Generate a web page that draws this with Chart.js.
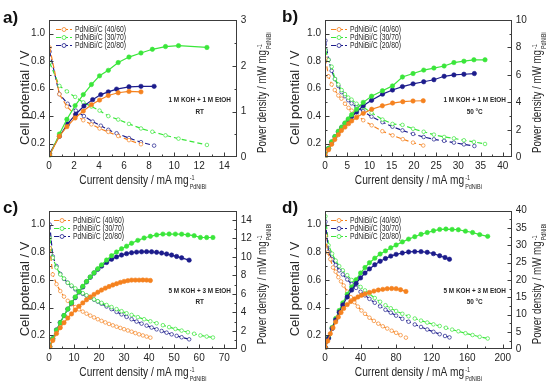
<!DOCTYPE html>
<html>
<head>
<meta charset="utf-8">
<script src="https://cdn.jsdelivr.net/npm/chart.js@4.4.1/dist/chart.umd.min.js"></script>
<style>
  html, body { margin: 0; padding: 0; background: #fff; }
  #wrap { position: relative; width: 550px; height: 386px; overflow: hidden; background: #fff; }
  .panel { position: absolute; width: 275px; height: 193px; }
</style>
</head>
<body>
<div id="wrap">
  <div class="panel" style="left:0;top:0"><canvas id="pa" width="275" height="193"></canvas></div>
  <div class="panel" style="left:275px;top:0"><canvas id="pb" width="275" height="193"></canvas></div>
  <div class="panel" style="left:0;top:193px"><canvas id="pc" width="275" height="193"></canvas></div>
  <div class="panel" style="left:275px;top:193px"><canvas id="pd" width="275" height="193"></canvas></div>
</div>
<script>
// ======= Data =======
// j = current density (mA mg-1), V = cell potential (V), P = power density (mW mg-1)

// a) 1 M KOH + 1 M EtOH, RT
const aJ40 = [0.05, 0.83, 1.43, 2.09, 2.74, 3.39, 4.04, 4.74, 5.53, 6.39, 7.35];
const aV40 = [0.90, 0.56, 0.47, 0.41, 0.37, 0.34, 0.31, 0.285, 0.255, 0.225, 0.195];
const aP40 = [0.05, 0.46, 0.67, 0.86, 1.01, 1.15, 1.25, 1.35, 1.41, 1.44, 1.43];
const aJ30 = [0.05, 0.83, 1.43, 2.09, 2.74, 3.39, 4.04, 4.74, 5.53, 6.39, 7.35, 8.26, 9.31, 10.35, 12.62];
const aV30 = [0.79, 0.62, 0.58, 0.54, 0.50, 0.47, 0.44, 0.40, 0.375, 0.343, 0.31, 0.286, 0.26, 0.236, 0.19];
const aP30 = [0.04, 0.51, 0.83, 1.13, 1.37, 1.59, 1.78, 1.90, 2.07, 2.19, 2.28, 2.36, 2.42, 2.44, 2.40];
const aJ20 = [0.05, 0.83, 1.49, 2.14, 2.79, 3.49, 4.14, 4.74, 5.40, 6.39, 7.35, 8.4];
const aV20 = [0.87, 0.56, 0.49, 0.44, 0.40, 0.36, 0.33, 0.30, 0.275, 0.24, 0.21, 0.185];
const aP20 = [0.08, 0.46, 0.73, 0.94, 1.12, 1.26, 1.37, 1.43, 1.49, 1.54, 1.55, 1.55];

// b) 1 M KOH + 1 M EtOH, 50 °C
const bJ40 = [0.1, 0.8, 1.5, 2.2, 3.0, 3.7, 4.5, 5.3, 6.0, 7.1, 8.6, 10.5, 12.9, 15.2, 17.5, 19.8, 22.1];
const bV40 = [0.82, 0.69, 0.63, 0.59, 0.55, 0.527, 0.49, 0.46, 0.44, 0.41, 0.37, 0.333, 0.29, 0.26, 0.232, 0.207, 0.186];
const bP40 = [0.05, 0.55, 0.95, 1.3, 1.65, 1.95, 2.2, 2.45, 2.65, 2.9, 3.2, 3.5, 3.75, 3.95, 4.05, 4.1, 4.12];
const bJ30 = [0.1, 0.8, 1.5, 2.24, 3.0, 3.74, 4.49, 5.23, 5.98, 7.1, 8.6, 10.47, 12.93, 15.18, 17.42, 19.81, 22.2, 24.5, 26.8, 29.0, 31.25, 33.5, 36.0];
const bV30 = [0.88, 0.81, 0.76, 0.67, 0.63, 0.59, 0.56, 0.535, 0.52, 0.49, 0.465, 0.425, 0.375, 0.343, 0.336, 0.308, 0.286, 0.265, 0.248, 0.238, 0.224, 0.212, 0.197];
const bP30 = [0.05, 0.65, 1.14, 1.51, 1.9, 2.2, 2.5, 2.8, 3.1, 3.5, 4.0, 4.45, 4.85, 5.2, 5.85, 6.1, 6.35, 6.5, 6.65, 6.9, 7.0, 7.1, 7.1];
const bJ20 = [0.1, 0.8, 1.5, 2.24, 3.0, 3.74, 4.49, 5.23, 5.98, 7.1, 8.6, 10.47, 12.93, 15.18, 17.42, 19.81, 22.2, 24.5, 26.8, 29.0, 31.25, 33.6];
const bV20 = [0.95, 0.81, 0.73, 0.67, 0.62, 0.575, 0.545, 0.516, 0.493, 0.465, 0.436, 0.396, 0.356, 0.323, 0.296, 0.27, 0.248, 0.231, 0.22, 0.207, 0.194, 0.182];
const bP20 = [0.08, 0.65, 1.1, 1.5, 1.85, 2.15, 2.45, 2.7, 2.95, 3.3, 3.75, 4.15, 4.6, 4.9, 5.15, 5.35, 5.5, 5.65, 5.9, 6.0, 6.05, 6.1];

// c) 5 M KOH + 3 M EtOH, RT
const cJ40 = [0.3, 1.5, 3, 4.5, 6, 7.5, 9, 10.5, 12, 13.5, 15, 16.5, 18, 19.5, 21, 22.5, 24, 25.5, 27, 28.5, 30, 31.5, 33, 34.5, 36, 37.5, 39, 40.5];
const cV40 = [0.83, 0.64, 0.57, 0.52, 0.48, 0.45, 0.425, 0.405, 0.388, 0.372, 0.357, 0.343, 0.33, 0.317, 0.305, 0.294, 0.283, 0.273, 0.263, 0.254, 0.245, 0.236, 0.227, 0.217, 0.208, 0.2, 0.192, 0.184];
const cP40 = [0.25, 0.96, 1.71, 2.34, 2.88, 3.38, 3.83, 4.25, 4.66, 5.02, 5.36, 5.66, 5.94, 6.18, 6.41, 6.62, 6.79, 6.96, 7.1, 7.24, 7.35, 7.43, 7.49, 7.49, 7.49, 7.5, 7.49, 7.45];
const cJ30 = [0.3, 1.5, 3, 4.5, 6, 7.5, 9, 10.5, 12, 13.5, 15, 16.5, 18, 19.5, 21, 23, 25, 27, 29, 31, 33, 35.5, 38, 40.5, 43, 45.5, 48, 50.5, 53, 55.5, 58, 60.5, 63, 65.5];
const cV30 = [0.90, 0.76, 0.69, 0.64, 0.61, 0.58, 0.56, 0.54, 0.52, 0.505, 0.49, 0.475, 0.46, 0.447, 0.435, 0.42, 0.405, 0.39, 0.375, 0.36, 0.348, 0.332, 0.317, 0.302, 0.288, 0.274, 0.26, 0.247, 0.235, 0.223, 0.212, 0.2, 0.192, 0.185];
const cP30 = [0.27, 1.14, 2.07, 2.88, 3.66, 4.35, 5.04, 5.67, 6.24, 6.82, 7.35, 7.84, 8.28, 8.72, 9.14, 9.66, 10.13, 10.53, 10.88, 11.16, 11.48, 11.79, 12.05, 12.23, 12.38, 12.47, 12.48, 12.47, 12.46, 12.38, 12.3, 12.1, 12.1, 12.1];
const cJ20 = [0.3, 1.5, 3, 4.5, 6, 7.5, 9, 10.5, 12, 13.5, 15, 16.5, 18, 19.5, 21, 23, 25, 27, 29, 31, 33, 35, 37, 39, 41, 43, 45, 47, 49, 51, 53, 56];
const cV20 = [1.0, 0.77, 0.70, 0.644, 0.608, 0.58, 0.556, 0.533, 0.517, 0.5, 0.487, 0.473, 0.458, 0.444, 0.429, 0.409, 0.39, 0.37, 0.352, 0.334, 0.317, 0.3, 0.285, 0.271, 0.257, 0.244, 0.232, 0.22, 0.208, 0.197, 0.187, 0.172];
const cP20 = [0.3, 1.15, 2.1, 2.9, 3.65, 4.35, 5.0, 5.6, 6.2, 6.75, 7.3, 7.8, 8.25, 8.65, 9.0, 9.4, 9.75, 10.0, 10.2, 10.35, 10.45, 10.52, 10.55, 10.57, 10.55, 10.5, 10.42, 10.32, 10.2, 10.05, 9.9, 9.65];

// d) 5 M KOH + 3 M EtOH, 50 °C  (legend order here: 40/60 orange, 30/70 navy, 20/80 green)
const dJ40 = [0.5, 3, 6, 9, 12, 15, 18, 21, 25, 29, 33, 37, 41, 45, 50, 55, 60, 65, 70, 75, 80, 85, 91];
const dV40 = [0.92, 0.8, 0.75, 0.69, 0.66, 0.62, 0.59, 0.56, 0.516, 0.476, 0.44, 0.408, 0.38, 0.356, 0.328, 0.305, 0.285, 0.266, 0.25, 0.234, 0.219, 0.202, 0.184];
const dP40 = [0.45, 2.4, 4.5, 6.2, 7.9, 9.3, 10.6, 11.8, 12.9, 13.8, 14.5, 15.1, 15.6, 16.0, 16.4, 16.8, 17.1, 17.3, 17.5, 17.55, 17.5, 17.2, 16.7];
const dJ30 = [0.5, 4, 8, 12, 16, 20, 25, 30, 35, 40, 45, 50, 56, 62, 68, 74, 80, 87, 94, 101, 108, 115, 122, 129, 135, 140];
const dV30 = [1.02, 0.80, 0.75, 0.708, 0.669, 0.64, 0.604, 0.57, 0.543, 0.515, 0.489, 0.464, 0.436, 0.41, 0.385, 0.364, 0.343, 0.32, 0.299, 0.279, 0.261, 0.243, 0.226, 0.209, 0.196, 0.186];
const dP30 = [0.5, 3.2, 6.0, 8.5, 10.7, 12.8, 15.1, 17.1, 19.0, 20.6, 22.0, 23.2, 24.4, 25.4, 26.2, 26.9, 27.4, 27.8, 28.1, 28.2, 28.2, 28.0, 27.6, 27.0, 26.5, 26.0];
const dJ20 = [0.5, 4, 8, 12, 16, 20, 25, 30, 35, 40, 45, 50, 56, 62, 68, 74, 80, 87, 94, 101, 108, 115, 122, 129, 136, 143, 150, 158, 166, 174, 183];
const dV20 = [1.06, 0.85, 0.79, 0.74, 0.70, 0.67, 0.635, 0.60, 0.575, 0.55, 0.525, 0.5, 0.47, 0.443, 0.418, 0.396, 0.376, 0.356, 0.338, 0.322, 0.307, 0.293, 0.28, 0.268, 0.255, 0.242, 0.23, 0.216, 0.203, 0.19, 0.178];
const dP20 = [0.5, 3.4, 6.3, 8.9, 11.2, 13.4, 15.9, 18.0, 20.1, 22.0, 23.6, 25.0, 26.3, 27.5, 28.4, 29.3, 30.1, 31.0, 31.8, 32.5, 33.2, 33.7, 34.2, 34.6, 34.7, 34.6, 34.5, 34.1, 33.7, 33.1, 32.6];

// ======= Tick labels =======
const vTicks  = [0.2, 0.4, 0.6, 0.8, 1.0];
const aXTicks = [0, 2, 4, 6, 8, 10, 12, 14];
const aPTicks = [0, 1, 2, 3];
const bXTicks = [0, 5, 10, 15, 20, 25, 30, 35, 40];
const bPTicks = [0, 2, 4, 6, 8, 10];
const cXTicks = [0, 10, 20, 30, 40, 50, 60, 70];
const cPTicks = [0, 2, 4, 6, 8, 10, 12, 14];
const dXTicks = [0, 40, 80, 120, 160, 200];
const dPTicks = [0, 5, 10, 15, 20, 25, 30, 35, 40];

const L40 = 'PdNiBi/C (40/60)', L30 = 'PdNiBi/C (30/70)', L20 = 'PdNiBi/C (20/80)';

// ======= Style =======
const ORANGE = '#f5821f', GREEN = '#3ae63a', NAVY = '#1c1c8c';
const AXIS = '#3c3c3c', TEXT = '#262626';
const FONT = '"Liberation Sans", Arial, Helvetica, sans-serif';

// ======= Helpers =======
const pts = (xs, ys) => xs.map((x, i) => ({ x, y: ys[i] }));

function polDs(label, color, j, v) {
  return {
    label, data: pts(j, v), yAxisID: 'y',
    borderColor: color, borderWidth: 1.2, borderDash: [5, 3],
    pointRadius: 1.8, pointBorderWidth: 0.7, pointBorderColor: color,
    pointBackgroundColor: '#fff', backgroundColor: '#fff', tension: 0
  };
}
function powDs(label, color, j, p) {
  return {
    label: label + ' power', data: pts(j, p), yAxisID: 'y1',
    borderColor: color, borderWidth: 1.2,
    pointRadius: 2.2, pointBorderWidth: 0.6, pointBorderColor: color,
    pointBackgroundColor: color, backgroundColor: color, tension: 0
  };
}

// squeezed text helper (the figure's lettering is horizontally condensed)
function sqText(ctx, text, x, y, sx) {
  ctx.save(); ctx.translate(x, y); ctx.scale(sx, 1); ctx.fillText(text, 0, 0); ctx.restore();
}
function textW(ctx, text, sx) { return ctx.measureText(text).width * sx; }

// "main" + stacked superscript -1 / subscript PdNiBi, starting at x0 on baseline y
function unitTitle(ctx, main, x0, y, size, sx) {
  ctx.font = size + 'px ' + FONT;
  sqText(ctx, main, x0, y, sx);
  const wm = textW(ctx, main, sx);
  ctx.font = '7px ' + FONT;
  sqText(ctx, '-1', x0 + wm + 1, y - 4, sx);
  sqText(ctx, 'PdNiBi', x0 + wm + 1, y + 4.5, sx);
}
function unitTitleWidth(ctx, main, size, sx) {
  ctx.font = size + 'px ' + FONT;
  const wm = textW(ctx, main, sx);
  ctx.font = '7px ' + FONT;
  return wm + 1 + textW(ctx, 'PdNiBi', sx);
}

// ======= Decorations: frame, inward ticks, titles, legend, notes =======
function decoPlugin(spec) {
  return {
    id: 'deco',
    afterDraw(chart) {
      const { ctx, chartArea: ca, scales } = chart;
      const sx = scales.x, sy = scales.y, sp = scales.y1;
      const L = Math.round(ca.left) + 0.5, R = Math.round(ca.right) - 0.5;
      const T = Math.round(ca.top) + 0.5, B = Math.round(ca.bottom) - 0.5;
      ctx.save();
      ctx.strokeStyle = AXIS; ctx.lineWidth = 1;
      ctx.strokeRect(L, T, R - L, B - T);

      const near = (arr, v) => arr.some(t => Math.abs(t - v) < 1e-6);
      ctx.beginPath();
      for (let k = 1; k * spec.xMinor < spec.xMax - 1e-6; k++) {
        const v = k * spec.xMinor, px = Math.round(sx.getPixelForValue(v)) + 0.5;
        ctx.moveTo(px, B); ctx.lineTo(px, B - (near(spec.xTicks, v) ? 4 : 2));
      }
      for (let k = 1; k < 10; k++) {
        const v = 0.1 + k * 0.1, py = Math.round(sy.getPixelForValue(v)) + 0.5;
        ctx.moveTo(L, py); ctx.lineTo(L + (near(vTicks, +v.toFixed(2)) ? 4 : 2), py);
      }
      for (let k = 1; k * spec.pMinor < spec.pMax - 1e-6; k++) {
        const v = k * spec.pMinor, py = Math.round(sp.getPixelForValue(v)) + 0.5;
        ctx.moveTo(R, py); ctx.lineTo(R - (near(spec.pTicks, v) ? 4 : 2), py);
      }
      ctx.stroke();

      ctx.fillStyle = TEXT;
      ctx.textBaseline = 'alphabetic'; ctx.textAlign = 'left';

      // x title
      const xMain = 'Current density / mA mg';
      const wx = unitTitleWidth(ctx, xMain, 13, 0.78);
      unitTitle(ctx, xMain, (ca.left + ca.right) / 2 - wx / 2, ca.bottom + 27, 13, 0.78);

      // left title
      ctx.save();
      ctx.translate(ca.left + spec.leftTitleDX, (ca.top + ca.bottom) / 2 + 9);
      ctx.rotate(-Math.PI / 2);
      ctx.font = '13px ' + FONT; ctx.textAlign = 'center'; ctx.textBaseline = 'middle';
      ctx.fillText('Cell potential / V', 0, 0);
      ctx.restore();

      // right title
      ctx.save();
      ctx.translate(ca.right + 25, (ca.top + ca.bottom) / 2 + 4);
      ctx.rotate(-Math.PI / 2);
      ctx.textAlign = 'left'; ctx.textBaseline = 'alphabetic';
      const pMain = 'Power density / mW mg';
      const wp = unitTitleWidth(ctx, pMain, 12.5, 0.78);
      unitTitle(ctx, pMain, -wp / 2, 4.5, 12.5, 0.78);
      ctx.restore();

      // legend (polarisation curves: dashed line + open circle)
      ctx.font = '8.5px ' + FONT; ctx.textBaseline = 'middle';
      spec.series.forEach((s, i) => {
        const y = Math.round(ca.top + 9 + i * 8.2) + 0.5;
        const tx = ca.left + spec.legendDX;
        ctx.strokeStyle = s.color; ctx.lineWidth = 1.2; ctx.setLineDash([5, 2]);
        ctx.beginPath(); ctx.moveTo(tx - 19, y); ctx.lineTo(tx - 3, y); ctx.stroke();
        ctx.setLineDash([]);
        ctx.fillStyle = '#fff'; ctx.lineWidth = 0.8;
        ctx.beginPath(); ctx.arc(tx - 11, y, 2, 0, Math.PI * 2); ctx.fill(); ctx.stroke();
        ctx.fillStyle = TEXT;
        sqText(ctx, s.label, tx, y, 0.8);
      });

      // conditions note
      ctx.font = 'bold 8px ' + FONT; ctx.textAlign = 'center'; ctx.textBaseline = 'middle';
      spec.note.forEach((line, i) => sqText(ctx, line, ca.right - 37, ca.top + 80 + i * 11.5, 0.8));

      // panel letter
      ctx.font = 'bold 17px ' + FONT; ctx.textAlign = 'left'; ctx.textBaseline = 'alphabetic';
      ctx.fillStyle = '#111';
      ctx.fillText(spec.letter, spec.letterX, spec.letterY);
      ctx.restore();
    }
  };
}

// ======= Panels =======
function makePanel(canvasId, spec) {
  const datasets = [];
  spec.series.forEach(s => datasets.push(powDs(s.label, s.color, s.j, s.P)));
  spec.series.forEach(s => datasets.push(polDs(s.label, s.color, s.j, s.V)));
  const tickFont = { family: FONT, size: 10 };
  return new Chart(document.getElementById(canvasId), {
    type: 'line',
    data: { datasets },
    options: {
      responsive: false, animation: false, events: [],
      layout: { padding: { top: spec.top, left: 0, right: 0, bottom: 0 } },
      plugins: { legend: { display: false }, tooltip: { enabled: false } },
      scales: {
        x: {
          type: 'linear', min: 0, max: spec.xMax,
          grid: { display: false, drawTicks: false }, border: { display: false },
          afterBuildTicks: s => { s.ticks = spec.xTicks.map(v => ({ value: v })); },
          afterFit: s => { s.height = spec.xH; },
          ticks: { autoSkip: false, maxRotation: 0, padding: 3, color: TEXT, font: tickFont, callback: v => String(v) }
        },
        y: {
          type: 'linear', position: 'left', min: 0.1, max: 1.1,
          grid: { display: false, drawTicks: false }, border: { display: false },
          afterBuildTicks: s => { s.ticks = vTicks.map(v => ({ value: v })); },
          afterFit: s => { s.width = spec.left; },
          ticks: { autoSkip: false, padding: 4, color: TEXT, font: tickFont, callback: v => v.toFixed(1) }
        },
        y1: {
          type: 'linear', position: 'right', min: 0, max: spec.pMax,
          grid: { display: false, drawTicks: false }, border: { display: false },
          afterBuildTicks: s => { s.ticks = spec.pTicks.map(v => ({ value: v })); },
          afterFit: s => { s.width = spec.right; },
          ticks: { autoSkip: false, padding: 4, color: TEXT, font: tickFont, callback: v => String(v) }
        }
      }
    },
    plugins: [decoPlugin(spec)]
  });
}

makePanel('pa', {
  letter: 'a)', letterX: 3, letterY: 23,
  xMax: 15, xTicks: aXTicks, xMinor: 1, pMax: 3, pTicks: aPTicks, pMinor: 0.5,
  left: 49, right: 38.3, top: 20, xH: 35.7, leftTitleDX: -24, legendDX: 26,
  note: ['1 M KOH + 1 M EtOH', 'RT'],
  series: [
    { label: L40, color: ORANGE, j: aJ40, V: aV40, P: aP40 },
    { label: L30, color: GREEN, j: aJ30, V: aV30, P: aP30 },
    { label: L20, color: NAVY, j: aJ20, V: aV20, P: aP20 }
  ]
});
makePanel('pb', {
  letter: 'b)', letterX: 7, letterY: 22,
  xMax: 42, xTicks: bXTicks, xMinor: 2.5, pMax: 10, pTicks: bPTicks, pMinor: 1,
  left: 50, right: 38.3, top: 20, xH: 35.7, leftTitleDX: -30, legendDX: 25,
  note: ['1 M KOH + 1 M EtOH', '50 °C'],
  series: [
    { label: L40, color: ORANGE, j: bJ40, V: bV40, P: bP40 },
    { label: L30, color: GREEN, j: bJ30, V: bV30, P: bP30 },
    { label: L20, color: NAVY, j: bJ20, V: bV20, P: bP20 }
  ]
});
makePanel('pc', {
  letter: 'c)', letterX: 3, letterY: 20,
  xMax: 75, xTicks: cXTicks, xMinor: 5, pMax: 15, pTicks: cPTicks, pMinor: 1,
  left: 49, right: 38.3, top: 17.7, xH: 36.7, leftTitleDX: -24, legendDX: 24,
  note: ['5 M KOH + 3 M EtOH', 'RT'],
  series: [
    { label: L40, color: ORANGE, j: cJ40, V: cV40, P: cP40 },
    { label: L30, color: GREEN, j: cJ30, V: cV30, P: cP30 },
    { label: L20, color: NAVY, j: cJ20, V: cV20, P: cP20 }
  ]
});
makePanel('pd', {
  letter: 'd)', letterX: 7, letterY: 20,
  xMax: 210, xTicks: dXTicks, xMinor: 20, pMax: 40, pTicks: dPTicks, pMinor: 2.5,
  left: 50, right: 38.3, top: 17.7, xH: 36.7, leftTitleDX: -30, legendDX: 25,
  note: ['5 M KOH + 3 M EtOH', '50 °C'],
  series: [
    { label: L40, color: ORANGE, j: dJ40, V: dV40, P: dP40 },
    { label: L30, color: NAVY, j: dJ30, V: dV30, P: dP30 },
    { label: L20, color: GREEN, j: dJ20, V: dV20, P: dP20 }
  ]
});
</script>
</body>
</html>
